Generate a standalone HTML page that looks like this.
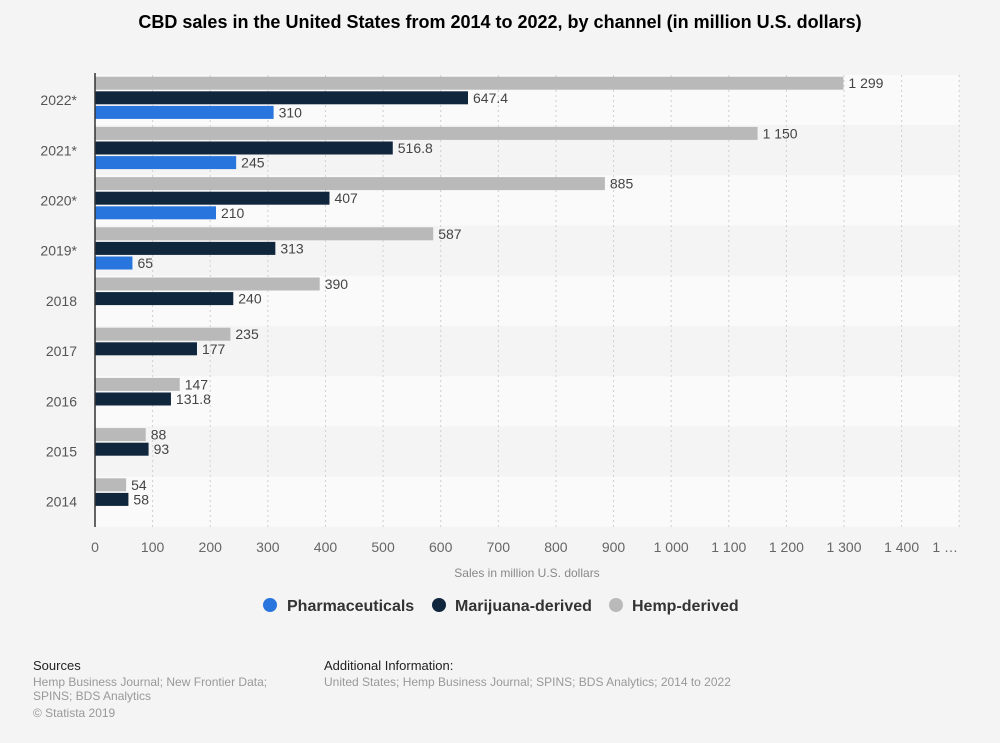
<!DOCTYPE html>
<html><head><meta charset="utf-8"><style>
body{margin:0;background:#f4f4f4;font-family:"Liberation Sans",Arial,sans-serif;}
svg{display:block}
</style></head><body>
<svg id="c" width="1000" height="743" viewBox="0 0 1000 743">
<rect width="1000" height="743" fill="#f4f4f4"/>
<text x="500" y="28" text-anchor="middle" font-size="18" font-weight="bold" fill="#000">CBD sales in the United States from 2014 to 2022, by channel (in million U.S. dollars)</text>
<g id="plot"></g>
<text x="527" y="577" text-anchor="middle" font-size="12" fill="#888">Sales in million U.S. dollars</text>
<g font-size="16" font-weight="bold" fill="#333">
<g><circle cx="270" cy="605" r="7" fill="#2876dd"/><text x="287" y="611">Pharmaceuticals</text></g>
<g><circle cx="439" cy="605" r="7" fill="#10263d"/><text x="455" y="611">Marijuana-derived</text></g>
<g><circle cx="616" cy="605" r="7" fill="#b9b9b9"/><text x="632" y="611">Hemp-derived</text></g>
</g>
<g font-size="13">
<text x="33" y="670" fill="#222">Sources</text>
<text x="33" y="686" fill="#999" font-size="12">Hemp Business Journal; New Frontier Data;</text>
<text x="33" y="700" fill="#999" font-size="12">SPINS; BDS Analytics</text>
<text x="33" y="717" fill="#999" font-size="12">© Statista 2019</text>
<text x="324" y="670" fill="#222">Additional Information:</text>
<text x="324" y="686" fill="#999" font-size="12">United States; Hemp Business Journal; SPINS; BDS Analytics; 2014 to 2022</text>
</g>
</svg>
<script>
const categories=["2022*","2021*","2020*","2019*","2018","2017","2016","2015","2014"];
const hemp=[1299,1150,885,587,390,235,147,88,54];
const marijuana=[647.4,516.8,407,313,240,177,131.8,93,58];
const pharma=[310,245,210,65,null,null,null,null,null];
const ticks=[0,100,200,300,400,500,600,700,800,900,1000,1100,1200,1300,1400,1500];
const tickLabels=["0","100","200","300","400","500","600","700","800","900","1 000","1 100","1 200","1 300","1 400","1 …"];
const NS="http://www.w3.org/2000/svg";
const g=document.getElementById('plot');
const X0=95,PX=749/1300,TOP=75,ROWH=50.2,BH=13;
const x=v=>X0+v*PX;
const y=i=>TOP+i*ROWH;
function mk(t,a){const e=document.createElementNS(NS,t);for(const k in a)e.setAttribute(k,a[k]);g.appendChild(e);return e;}
function fmt(v){const s=String(v);const p=s.split('.');p[0]=p[0].replace(/\B(?=(\d{3})+(?!\d))/g,' ');return p.join('.');}
categories.forEach((c,i)=>{
  const r=mk('rect',{x:X0,y:y(i),width:x(1500)-X0,height:ROWH,fill:i%2?'#f4f4f4':'#fafafa'});
  
  
});
ticks.forEach((t,i)=>{
  if(i>0){const l=mk('line',{x1:x(t),x2:x(t),y1:TOP,y2:527,stroke:'#d0d0d0','stroke-dasharray':'2,3'});
  
  }
  const last=i===ticks.length-1;
  const tx=mk('text',{x:last?x(t)-14:x(t),y:552,'text-anchor':'middle','font-size':14,fill:'#666'});
  tx.textContent=tickLabels[i];
  
  
});
const series=[[hemp,'#b9b9b9','hemp'],[marijuana,'#10263d','marijuana'],[pharma,'#2876dd','pharma']];
categories.forEach((c,i)=>{
  const lab=mk('text',{x:77,y:y(i)+ROWH/2+5,'text-anchor':'end','font-size':14,fill:'#555'});
  lab.textContent=c;
  
  
  series.forEach((s,j)=>{
    const v=s[0][i]; if(v==null)return;
    const by=y(i)+1.7+j*14.6;
    const b=mk('rect',{x:X0,y:by,width:x(v)-X0,height:BH,fill:s[1]});
    
    
    const t=mk('text',{x:x(v)+5,y:by+11.5,'font-size':14,fill:'#444'});
    t.textContent=fmt(v);
    
    
  });
});
const ax=mk('line',{x1:X0,x2:X0,y1:73,y2:527,stroke:'#333','stroke-width':1.5});


</script>
</body></html>
